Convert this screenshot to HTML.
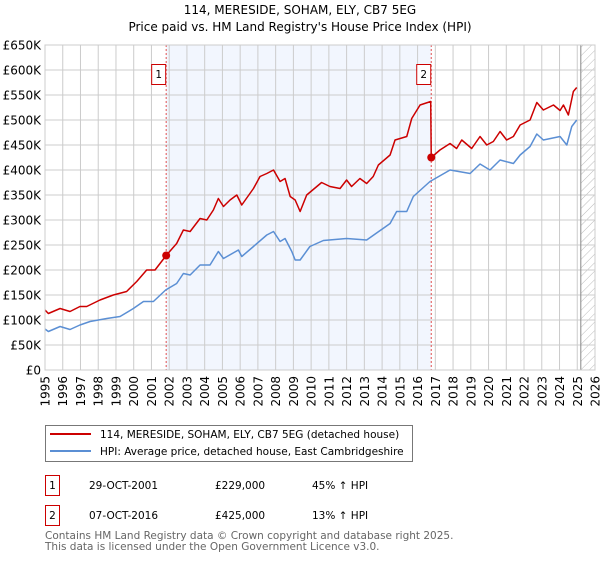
<!DOCTYPE html>
<html><head><meta charset="utf-8"><style>
body{margin:0;background:#fff;font-family:"Liberation Sans","DejaVu Sans",sans-serif}
svg text{font-family:"DejaVu Sans","Liberation Sans",sans-serif}
</style></head><body>
<svg id="c" width="600" height="560" viewBox="0 0 600 560">
<defs><pattern id="hatch" width="6" height="6" patternUnits="userSpaceOnUse" patternTransform="rotate(45)"><line x1="0" y1="0" x2="0" y2="6" stroke="#bbb" stroke-width="1"/></pattern></defs>
<text x="300" y="14" text-anchor="middle" font-size="12" fill="#000">114, MERESIDE, SOHAM, ELY, CB7 5EG</text>
<text x="300" y="31" text-anchor="middle" font-size="12" fill="#000">Price paid vs. HM Land Registry's House Price Index (HPI)</text>
<g id="plot"></g>
<g>
<rect x="45.5" y="425.5" width="367" height="36" fill="#fff" stroke="#777"/>
<line x1="50" y1="434" x2="91" y2="434" stroke="#cc0000" stroke-width="2"/>
<text x="100" y="438" font-size="10.5">114, MERESIDE, SOHAM, ELY, CB7 5EG (detached house)</text>
<line x1="50" y1="451" x2="91" y2="451" stroke="#5b8fd4" stroke-width="2"/>
<text x="100" y="455" font-size="10.5">HPI: Average price, detached house, East Cambridgeshire</text>
</g>
<g font-size="10.5">
<rect x="45.5" y="475.5" width="14" height="20" fill="#fff" stroke="#cc0000"/><text x="52.5" y="489" text-anchor="middle">1</text>
<text x="89" y="489">29-OCT-2001</text><text x="215" y="489">£229,000</text><text x="312" y="489">45% ↑ HPI</text>
<rect x="45.5" y="505.5" width="14" height="20" fill="#fff" stroke="#cc0000"/><text x="52.5" y="519" text-anchor="middle">2</text>
<text x="89" y="519">07-OCT-2016</text><text x="215" y="519">£425,000</text><text x="312" y="519">13% ↑ HPI</text>
</g>
<text x="45" y="539" font-size="10.5" fill="#666">Contains HM Land Registry data © Crown copyright and database right 2025.</text>
<text x="45" y="550" font-size="10.5" fill="#666">This data is licensed under the Open Government Licence v3.0.</text>
</svg>
<script>
const yTicks=[0,50,100,150,200,250,300,350,400,450,500,550,600,650];
const yTickLabels=["£0","£50K","£100K","£150K","£200K","£250K","£300K","£350K","£400K","£450K","£500K","£550K","£600K","£650K"];
const xYears=[1995,1996,1997,1998,1999,2000,2001,2002,2003,2004,2005,2006,2007,2008,2009,2010,2011,2012,2013,2014,2015,2016,2017,2018,2019,2020,2021,2022,2023,2024,2025,2026];
const hpiYears=[1995.0,1995.19,1995.85,1996.41,1996.97,1997.54,1998.48,1999.23,1999.98,2000.55,2001.11,2001.8,2002.42,2002.8,2003.18,2003.74,2004.3,2004.77,2005.06,2005.9,2006.09,2006.75,2007.5,2007.88,2008.25,2008.53,2008.91,2009.1,2009.38,2009.93,2010.69,2012.0,2013.13,2014.45,2014.82,2015.39,2015.76,2016.7,2017.83,2018.96,2019.52,2020.08,2020.65,2021.4,2021.78,2022.34,2022.72,2023.09,2024.03,2024.41,2024.69,2024.97];
const hpiValues=[82,77,87,81,90,97,103,107,123,137,137,160,173,193,190,210,210,237,223,240,227,247,270,277,257,263,237,220,220,247,259,263,260,293,317,317,347,377,400,393,412,400,420,413,430,447,472,460,467,450,487,500];
const priceYears=[1995.0,1995.19,1995.85,1996.41,1996.97,1997.35,1998.1,1998.85,1999.6,2000.17,2000.73,2001.2,2001.83,2002.42,2002.8,2003.18,2003.74,2004.12,2004.49,2004.77,2005.06,2005.43,2005.81,2006.09,2006.75,2007.12,2007.5,2007.88,2008.25,2008.53,2008.82,2009.1,2009.38,2009.75,2010.59,2011.06,2011.63,2012.0,2012.28,2012.75,2013.13,2013.5,2013.79,2014.45,2014.73,2015.39,2015.67,2016.14,2016.74,2016.77,2017.26,2017.83,2018.2,2018.49,2019.05,2019.52,2019.9,2020.27,2020.65,2021.02,2021.4,2021.78,2022.34,2022.72,2023.09,2023.66,2024.03,2024.22,2024.5,2024.78,2024.97];
const priceValues=[120,113,123,117,127,127,140,150,157,177,200,200,229,253,280,277,303,300,320,343,327,340,350,330,363,387,393,400,377,383,347,340,317,350,375,367,363,380,367,383,373,387,410,430,460,467,503,530,537,425,440,453,443,460,443,467,450,457,477,460,467,490,500,535,520,530,519,530,510,557,565];
const saleYears=[2001.83,2016.77];
const saleValues=[229,425];
const saleLabels=["1","2"];

const X0=45,X1=595,Y0=370,Y1=45;
const xs=y=>X0+(y-1995)/(2026-1995)*(X1-X0);
const ys=v=>Y0-v/650*(Y0-Y1);
const NS="http://www.w3.org/2000/svg";
const plot=document.getElementById('plot');
function mk(tag,attrs,parent){const e=document.createElementNS(NS,tag);for(const k in attrs)e.setAttribute(k,attrs[k]);(parent||plot).appendChild(e);return e;}

const shade=mk('rect',{x:xs(saleYears[0]),y:Y1,width:xs(saleYears[1])-xs(saleYears[0]),height:Y0-Y1,fill:'#eef3fd',opacity:0.75});


const hatch=mk('rect',{x:xs(2025.2),y:Y1,width:X1-xs(2025.2),height:Y0-Y1,fill:'url(#hatch)'});



yTicks.forEach((t,i)=>{
  const g=mk('line',{x1:X0,x2:X1,y1:ys(t),y2:ys(t),stroke:'#ccc','stroke-width':1});
  
  
  const l=mk('text',{x:X0-4,y:ys(t)+4.5,'text-anchor':'end','font-size':12});
  l.textContent=yTickLabels[i];
  
  
});
xYears.forEach(yr=>{
  const g=mk('line',{x1:xs(yr),x2:xs(yr),y1:Y1,y2:Y0,stroke:'#ccc','stroke-width':1});
  
  
  const l=mk('text',{x:0,y:0,'font-size':12,'text-anchor':'end',transform:`translate(${xs(yr)+4.5},${Y0+6}) rotate(-90)`});
  l.textContent=yr;
  
  
});
const now=mk('line',{x1:xs(2025.2),x2:xs(2025.2),y1:Y1,y2:Y0,stroke:'#888','stroke-width':1});



saleYears.forEach((sy,i)=>{
  const v=mk('line',{x1:xs(sy),x2:xs(sy),y1:Y1,y2:Y0,stroke:'#e05050','stroke-width':1,'stroke-dasharray':'2,2'});
  
  
  const b=mk('rect',{x:xs(sy)-14.5,y:64.5,width:14,height:20,fill:'#fff',stroke:'#cc0000'});
  
  
  const t=mk('text',{x:xs(sy)-7.5,y:78,'text-anchor':'middle','font-size':10.5});
  t.textContent=saleLabels[i];
  
  
});

const hp=mk('polyline',{points:hpiYears.map((y,i)=>xs(y)+','+ys(hpiValues[i])).join(' '),fill:'none',stroke:'#5b8fd4','stroke-width':1.5,'stroke-linejoin':'round'});


const pp=mk('polyline',{points:priceYears.map((y,i)=>xs(y)+','+ys(priceValues[i])).join(' '),fill:'none',stroke:'#cc0000','stroke-width':1.5,'stroke-linejoin':'round'});


saleYears.forEach((sy,i)=>{
  const c=mk('circle',{cx:xs(sy),cy:ys(saleValues[i]),r:4,fill:'#cc0000'});
  
  
});
const frame=mk('rect',{x:X0,y:Y1,width:X1-X0,height:Y0-Y1,fill:'none',stroke:'#ccc'});


</script>
</body></html>
